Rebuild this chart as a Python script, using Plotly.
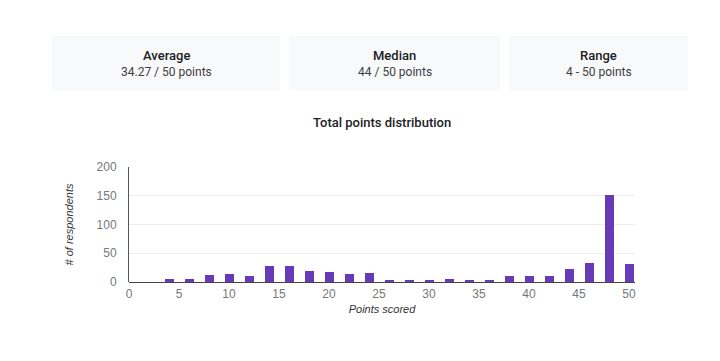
import plotly.graph_objects as go

points = [4, 6, 8, 10, 12, 14, 16, 18, 20, 22, 24, 26, 28, 30, 32, 34, 36, 38, 40, 42, 44, 46, 48, 50]
respondents = [6, 6, 12, 14, 10, 28, 27, 19, 17, 14, 16, 4, 4, 3, 6, 4, 4, 10, 10, 10, 23, 33, 151, 31]
x_ticks = [0, 5, 10, 15, 20, 25, 30, 35, 40, 45, 50]
y_ticks = [0, 50, 100, 150, 200]

card_titles = ["Average", "Median", "Range"]
card_values = ["34.27 / 50 points", "44 / 50 points", "4 - 50 points"]

OFF = 8  # page body margin
W, H = 720, 361
L, T = 129 - OFF, 167 - OFF
R = W - (635 - OFF)
B = H - (282 - OFF)
pw, ph = W - L - R, H - T - B

def px(x):
    return (x - OFF - L) / pw

def py(y):
    return (H - B - (y - OFF)) / ph

fig = go.Figure()
fig.add_trace(go.Bar(x=points, y=respondents, width=0.9, marker=dict(color="#673ab7", line=dict(width=0)),
                     hoverinfo="x+y"))

cards = [(52, 280), (289, 500), (509, 688)]
shapes = []
annotations = []
for (x0, x1), t, v in zip(cards, card_titles, card_values):
    shapes.append(dict(type="rect", xref="paper", yref="paper", x0=px(x0), x1=px(x1), y0=py(90), y1=py(36),
                       fillcolor="#f8f9fa", line=dict(width=0), layer="below"))
    cx = px((x0 + x1) / 2)
    annotations.append(dict(text=t, x=cx, y=py(55), xref="paper", yref="paper", showarrow=False,
                            font=dict(family="Roboto", size=13, color="#202124", weight=500),
                            xanchor="center", yanchor="middle"))
    annotations.append(dict(text=v, x=cx, y=py(72), xref="paper", yref="paper", showarrow=False,
                            font=dict(family="Roboto", size=12, color="#3c4043"), xanchor="center", yanchor="middle"))

annotations.append(dict(text="Total points distribution", x=px(382), y=py(122), xref="paper", yref="paper",
                        showarrow=False, font=dict(family="Roboto", size=13, color="#202124", weight=500),
                        xanchor="center", yanchor="middle"))

fig.update_layout(
    width=W, height=H,
    margin=dict(l=L, r=R, t=T, b=B, pad=0),
    paper_bgcolor="white", plot_bgcolor="white",
    showlegend=False,
    shapes=shapes,
    annotations=annotations,
    bargap=0,
    xaxis=dict(range=[0, 50.6], tickvals=x_ticks, showgrid=False, zeroline=False,
               showline=False, ticks="", ticklabelstandoff=3,
               tickfont=dict(family="Liberation Sans", size=12, color="#777777"),
               title=dict(text="<i>Points scored</i>", font=dict(family="Liberation Sans", size=11, color="#333333"),
                          standoff=5)),
    yaxis=dict(range=[0, 200], tickvals=y_ticks, showgrid=True, gridcolor="#ededed", gridwidth=1,
               zeroline=True, zerolinecolor="#444444", zerolinewidth=1,
               showline=True, linecolor="#555555", linewidth=1, ticks="", ticklabelstandoff=9,
               tickfont=dict(family="Liberation Sans", size=12, color="#777777"),
               title=dict(text="<i># of respondents</i>", font=dict(family="Liberation Sans", size=11, color="#333333"),
                          standoff=20)),
)

fig.write_html("out.html")
